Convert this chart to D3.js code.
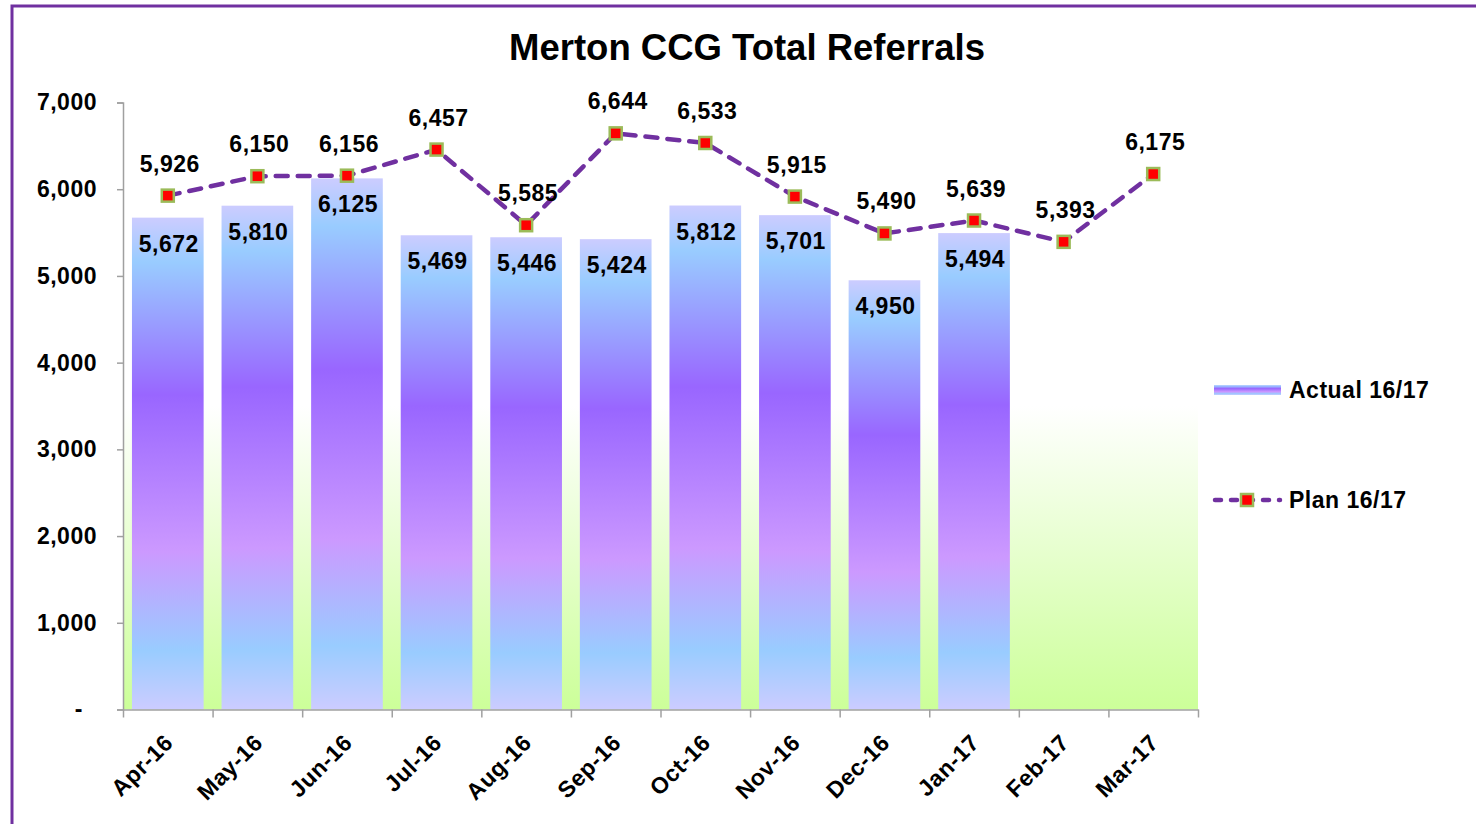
<!DOCTYPE html>
<html>
<head>
<meta charset="utf-8">
<script src="https://cdn.jsdelivr.net/npm/d3@7"></script>
<style>
  body { margin: 0; background: #fff; }
  svg text { font-family: "Liberation Sans", Arial, sans-serif; font-weight: bold; fill: #000; }
</style>
</head>
<body>
<div id="chart"></div>
<script>
// data
var months = ["Apr-16", "May-16", "Jun-16", "Jul-16", "Aug-16", "Sep-16",
              "Oct-16", "Nov-16", "Dec-16", "Jan-17", "Feb-17", "Mar-17"];
var actual = [5672, 5810, 6125, 5469, 5446, 5424, 5812, 5701, 4950, 5494, null, null];
var plan = [5926, 6150, 6156, 6457, 5585, 6644, 6533, 5915, 5490, 5639, 5393, 6175];
var yTicks = [0, 1000, 2000, 3000, 4000, 5000, 6000, 7000];

var W = 1476, H = 824;
var margin = { top: 102.5, left: 123, right: 278, bottom: 114.5 };
var width = W - margin.left - margin.right,
    height = H - margin.top - margin.bottom;

var svg = d3.select("#chart").append("svg")
    .attr("width", W)
    .attr("height", H);

var defs = svg.append("defs");

// bar fill, per bar, top to bottom
var barGrad = defs.append("linearGradient")
    .attr("id", "barGrad")
    .attr("x1", 0).attr("y1", 0).attr("x2", 0).attr("y2", 1);
barGrad.selectAll("stop")
    .data([
        { offset: "0%", color: "#ccccff" },
        { offset: "9%", color: "#99ccff" },
        { offset: "36%", color: "#9966ff" },
        { offset: "68%", color: "#cc99ff" },
        { offset: "88%", color: "#99ccff" },
        { offset: "100%", color: "#ccccff" }
    ])
    .enter().append("stop")
    .attr("offset", function(d) { return d.offset; })
    .attr("stop-color", function(d) { return d.color; });

// plot area background
var bgGrad = defs.append("linearGradient")
    .attr("id", "bgGrad")
    .attr("x1", 0).attr("y1", 0).attr("x2", 0).attr("y2", 1);
bgGrad.selectAll("stop")
    .data([
        { offset: "0%", color: "#ffffff" },
        { offset: "50%", color: "#ffffff" },
        { offset: "100%", color: "#ccff99" }
    ])
    .enter().append("stop")
    .attr("offset", function(d) { return d.offset; })
    .attr("stop-color", function(d) { return d.color; });

// outer frame
svg.append("rect")
    .attr("x", 12).attr("y", 6)
    .attr("width", W).attr("height", H + 20)
    .attr("fill", "#fff")
    .attr("stroke", "#7030a0")
    .attr("stroke-width", 3);

// title
svg.append("text")
    .attr("x", 747).attr("y", 60)
    .attr("text-anchor", "middle")
    .style("font-size", "36.5px")
    .text("Merton CCG Total Referrals");

var g = svg.append("g")
    .attr("transform", "translate(" + margin.left + "," + margin.top + ")");

var x = d3.scaleBand()
    .domain(months)
    .range([0, width])
    .paddingInner(0.2)
    .paddingOuter(0.1);

// category boundaries for the x ticks
var xEdge = d3.scaleLinear().domain([0, months.length]).range([0, width]);

var y = d3.scaleLinear().domain([0, 7000]).range([height, 0]);

g.append("rect")
    .attr("width", width)
    .attr("height", height)
    .attr("fill", "url(#bgGrad)");

// bars
var barData = months.map(function(m, i) { return { m: m, v: actual[i] }; })
    .filter(function(d) { return d.v != null; });

g.selectAll(".bar")
    .data(barData)
    .enter().append("rect")
    .attr("class", "bar")
    .attr("x", function(d) { return x(d.m); })
    .attr("y", function(d) { return y(d.v); })
    .attr("width", x.bandwidth())
    .attr("height", function(d) { return height - y(d.v); })
    .attr("fill", "url(#barGrad)");

g.selectAll(".barLabel")
    .data(barData)
    .enter().append("text")
    .attr("class", "barLabel")
    .attr("x", function(d) { return x(d.m) + x.bandwidth() / 2 + 1; })
    .attr("y", function(d) { return y(d.v) + 34; })
    .attr("text-anchor", "middle")
    .style("font-size", "23px")
    .style("letter-spacing", "0.5px")
    .text(function(d) { return d3.format(",")(d.v); });

// axes
var yAxis = g.append("g")
    .call(d3.axisLeft(y)
        .tickValues(yTicks)
        .tickSize(6)
        .tickPadding(20)
        .tickFormat(function(d) { return d === 0 ? "-" : d3.format(",")(d); }));
yAxis.select(".domain").attr("stroke", "#a0a0a0").attr("stroke-width", 1.5);
yAxis.selectAll(".tick line").attr("stroke", "#a0a0a0").attr("stroke-width", 1.5);
yAxis.selectAll(".tick text")
    .style("font-size", "23px")
    .style("letter-spacing", "0.5px")
    .attr("dx", function(d) { return d === 0 ? -14 : 0; });

var xAxis = g.append("g")
    .attr("transform", "translate(0," + height + ")")
    .call(d3.axisBottom(xEdge)
        .tickValues(d3.range(months.length + 1))
        .tickSize(8)
        .tickSizeOuter(0)
        .tickFormat(""));
xAxis.select(".domain").attr("stroke", "#a0a0a0").attr("stroke-width", 1.5);
xAxis.selectAll(".tick line").attr("stroke", "#a0a0a0").attr("stroke-width", 1.5);

g.selectAll(".xLabel")
    .data(months)
    .enter().append("text")
    .attr("class", "xLabel")
    .attr("transform", function(d) {
        return "translate(" + (x(d) + x.bandwidth() / 2 + 1) + "," + (height + 29) + ") rotate(-45)";
    })
    .attr("text-anchor", "end")
    .attr("dy", "0.35em")
    .style("font-size", "23px")
    .style("letter-spacing", "0.5px")
    .text(function(d) { return d; });

// plan line
var cx = function(i) { return x(months[i]) + x.bandwidth() / 2; };

var line = d3.line()
    .x(function(d, i) { return cx(i); })
    .y(function(d) { return y(d); });

g.append("path")
    .datum(plan)
    .attr("fill", "none")
    .attr("stroke", "#7030a0")
    .attr("stroke-width", 4.5)
    .attr("stroke-dasharray", "12,10")
    .attr("stroke-linecap", "round")
    .attr("d", line);

g.selectAll(".marker")
    .data(plan)
    .enter().append("rect")
    .attr("class", "marker")
    .attr("x", function(d, i) { return cx(i) - 6; })
    .attr("y", function(d) { return y(d) - 6; })
    .attr("width", 12)
    .attr("height", 12)
    .attr("fill", "#ff0000")
    .attr("stroke", "#9bbb59")
    .attr("stroke-width", 2.5);

g.selectAll(".planLabel")
    .data(plan)
    .enter().append("text")
    .attr("class", "planLabel")
    .attr("x", function(d, i) { return cx(i) + 2; })
    .attr("y", function(d) { return y(d) - 24; })
    .attr("text-anchor", "middle")
    .style("font-size", "23px")
    .style("letter-spacing", "0.5px")
    .text(function(d) { return d3.format(",")(d); });

// legend
var legend = svg.append("g");

legend.append("rect")
    .attr("x", 1214).attr("y", 385)
    .attr("width", 67).attr("height", 10)
    .attr("fill", "url(#barGrad)");
legend.append("text")
    .attr("x", 1289).attr("y", 398)
    .style("font-size", "23px")
    .style("letter-spacing", "0.5px")
    .text("Actual 16/17");

legend.append("line")
    .attr("x1", 1215).attr("x2", 1280)
    .attr("y1", 500).attr("y2", 500)
    .attr("stroke", "#7030a0")
    .attr("stroke-width", 4.5)
    .attr("stroke-dasharray", "6,10")
    .attr("stroke-linecap", "round");
legend.append("rect")
    .attr("x", 1247 - 6).attr("y", 500 - 6)
    .attr("width", 12).attr("height", 12)
    .attr("fill", "#ff0000")
    .attr("stroke", "#9bbb59")
    .attr("stroke-width", 2.5);
legend.append("text")
    .attr("x", 1289).attr("y", 508)
    .style("font-size", "23px")
    .style("letter-spacing", "0.5px")
    .text("Plan 16/17");
</script>
</body>
</html>
